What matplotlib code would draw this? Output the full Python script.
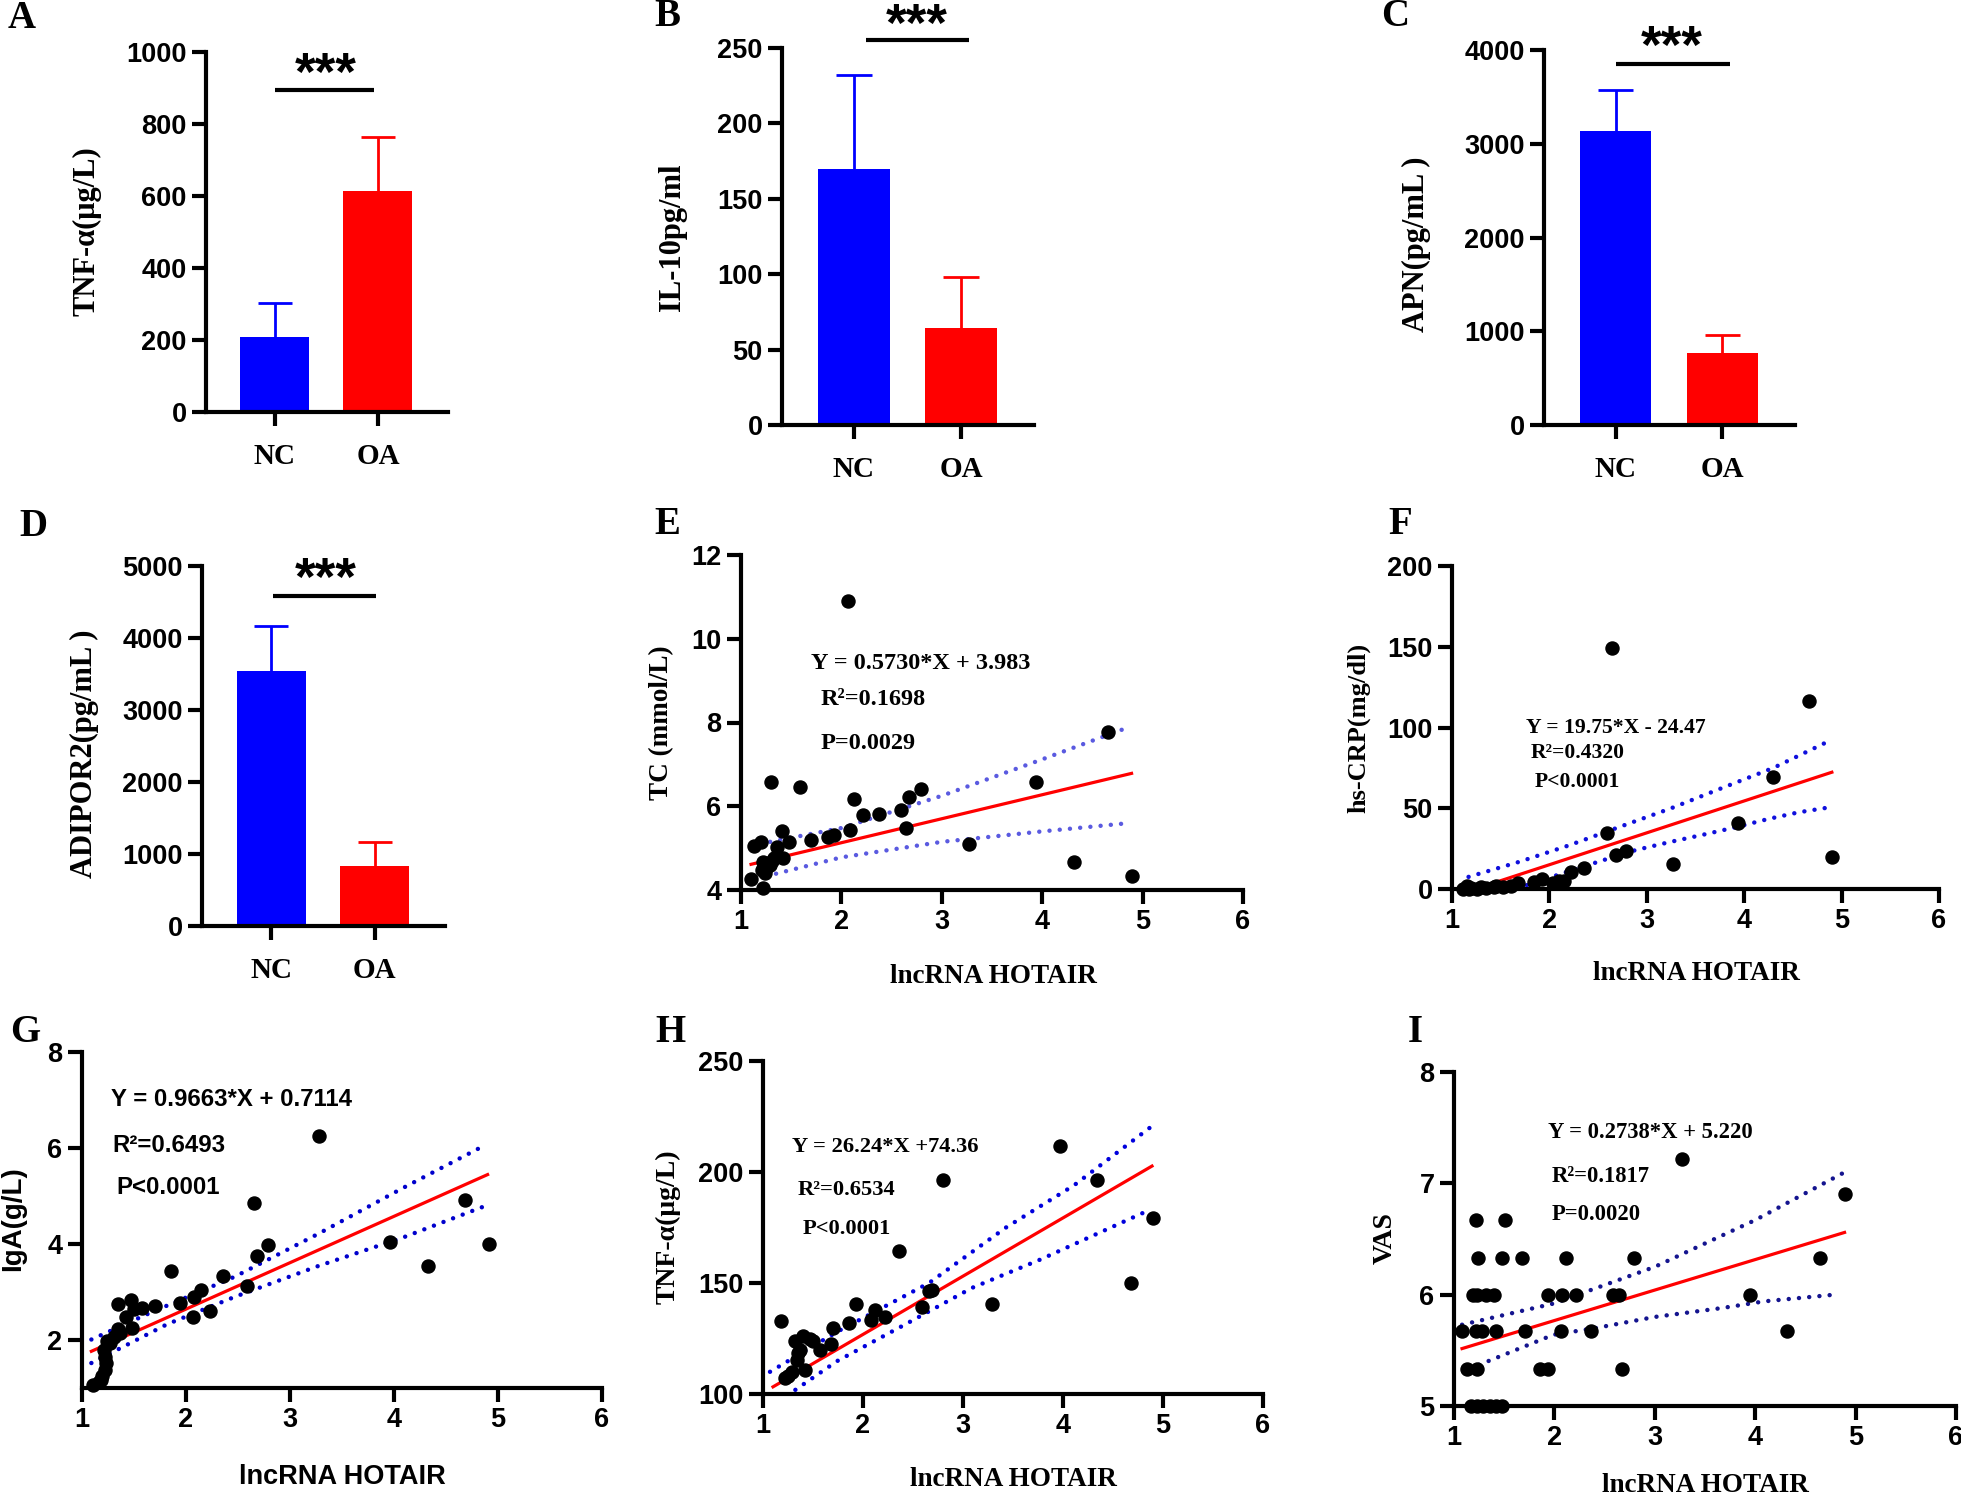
import numpy as np
import matplotlib.pyplot as plt

plt.rcParams['font.family'] = ['Liberation Sans', 'DejaVu Sans']
plt.rcParams['font.weight'] = 'bold'

SERIF = ['Liberation Serif', 'DejaVu Serif']
SANS = ['Liberation Sans', 'DejaVu Sans']

# ---- bar panel data (mean, upper SD) ----
groups = ['NC', 'OA']
bar_colors = ['#0000ff', '#ff0000']
tnf_mean, tnf_sd = [209, 614], [94, 150]
il10_mean, il10_sd = [170, 64], [62, 34]
apn_mean, apn_sd = [3139, 765], [434, 195]
adipor2_mean, adipor2_sd = [3546, 838], [625, 324]

# ---- scatter data: lncRNA HOTAIR vs ... ----
tc_x = [1.10, 1.13, 1.20, 1.22, 1.22, 1.21, 1.25, 1.30, 1.29, 1.33, 1.36, 1.41, 1.42, 1.48,
        1.59, 1.70, 1.87, 1.93, 2.07, 2.09, 2.13, 2.22, 2.37, 2.59, 2.64, 2.67, 2.79, 3.27,
        3.94, 4.32, 4.66, 4.89, 1.24, 1.31]
tc_y = [4.26, 5.04, 5.15, 4.04, 4.68, 4.48, 4.52, 6.59, 4.60, 4.76, 5.02, 5.41, 4.76, 5.15,
        6.45, 5.19, 5.26, 5.31, 10.90, 5.43, 6.17, 5.79, 5.82, 5.91, 5.47, 6.21, 6.41, 5.11,
        6.59, 4.68, 7.77, 4.33, 4.40, 4.70]
tc_up_x, tc_up_y = [1.29, 2.0, 3.0, 4.0, 4.83], [5.15, 5.48, 6.25, 7.12, 7.86]
tc_lo_x, tc_lo_y = [1.25, 2.0, 3.0, 4.0, 4.83], [4.33, 4.78, 5.15, 5.40, 5.59]

crp_x = [1.11, 1.15, 1.17, 1.20, 1.26, 1.30, 1.35, 1.43, 1.45, 1.52, 1.61, 1.68, 1.84, 1.92,
         2.04, 2.10, 2.15, 2.22, 2.36, 2.59, 2.645, 2.68, 2.79, 3.27, 3.94, 4.30, 4.67, 4.90]
crp_y = [0.2, 1.6, 0.0, 0.5, 0.0, 1.0, 0.6, 1.0, 2.0, 1.0, 1.6, 3.7, 4.1, 6.2,
         3.7, 5.2, 4.7, 10.3, 12.8, 34.7, 149.5, 21.1, 23.8, 15.5, 40.9, 69.6, 116.5, 19.6]
crp_up_x, crp_up_y = [1.17, 1.7, 2.2, 2.7, 3.25, 3.75, 4.3, 4.85], [7.5, 17, 27, 38, 50, 62, 75, 91]
crp_lo_x = [1.17, 1.7, 2.2, 2.54, 2.88, 3.23, 3.57, 3.91, 4.25, 4.56, 4.87]
crp_lo_y = [-10, 1, 11, 17.6, 24, 29, 33.5, 38.2, 43.4, 47.5, 50.5]

iga_x = [3.28, 2.65, 4.68, 2.79, 2.68, 3.96, 4.91, 4.33, 1.86, 2.36, 2.59, 2.14, 2.08, 1.94,
         2.23, 2.07, 1.35, 1.47, 1.58, 1.70, 1.50, 1.42, 1.35, 1.48, 1.31, 1.24, 1.21, 1.23,
         1.22, 1.19, 1.16, 1.11, 1.37, 1.27, 1.18, 1.22]
iga_y = [6.24, 4.85, 4.91, 3.97, 3.76, 4.04, 4.01, 3.54, 3.44, 3.33, 3.13, 3.05, 2.90, 2.78,
         2.61, 2.47, 2.76, 2.84, 2.66, 2.71, 2.64, 2.47, 2.22, 2.26, 2.07, 1.97, 1.79, 1.52,
         1.38, 1.24, 1.13, 1.07, 2.14, 1.93, 1.17, 1.65]
iga_up_x, iga_up_y = [1.09, 1.66, 2.47, 3.27, 4.08, 4.85], [2.01, 2.57, 3.32, 4.21, 5.16, 6.03]
iga_lo_x, iga_lo_y = [1.09, 1.82, 2.47, 3.27, 4.08, 4.85], [1.52, 2.33, 2.90, 3.54, 4.13, 4.77]

tnf_x = [3.97, 2.80, 4.34, 2.36, 4.68, 3.29, 2.66, 2.69, 2.59, 1.93, 2.12, 2.08, 2.22, 1.86,
         1.70, 1.18, 1.68, 1.57, 1.47, 1.40, 1.32, 1.50, 1.35, 1.34, 1.42, 1.29, 1.22, 1.25,
         1.37, 4.90]
tnf_y = [211.8, 196.2, 196.2, 164.6, 150.0, 140.6, 146.3, 147.0, 139.0, 140.7, 138.0, 133.5,
         134.6, 132.0, 129.8, 132.8, 122.6, 119.7, 124.8, 126.0, 123.8, 123.8, 118.5, 115.5,
         111.0, 110.0, 107.0, 108.0, 120.0, 179.5]
tnf_up_x, tnf_up_y = [1.07, 1.74, 2.66, 3.43, 4.11, 4.87], [110, 128, 150, 175, 194, 220]
tnf_lo_x, tnf_lo_y = [1.07, 1.74, 2.42, 3.09, 3.77, 4.87], [94, 114.8, 131.3, 147.8, 160.5, 183]

vas_x = [3.27, 4.89, 1.22, 1.51, 1.24, 1.48, 1.68, 2.12, 2.79, 4.65,
         1.19, 1.23, 1.32, 1.40, 1.94, 2.08, 2.22, 2.58, 2.64, 3.95,
         1.08, 1.22, 1.28, 1.42, 1.71, 2.07, 2.36, 4.32,
         1.13, 1.23, 1.86, 1.94, 2.67,
         1.17, 1.23, 1.29, 1.36, 1.42, 1.48]
vas_y = [7.22, 6.90, 6.67, 6.67, 6.33, 6.33, 6.33, 6.33, 6.33, 6.33,
         6, 6, 6, 6, 6, 6, 6, 6, 6, 6,
         5.67, 5.67, 5.67, 5.67, 5.67, 5.67, 5.67, 5.67,
         5.33, 5.33, 5.33, 5.33, 5.33,
         5, 5, 5, 5, 5, 5]
vas_up_x, vas_up_y = [1.08, 1.99, 3.0, 4.0, 4.87], [5.73, 5.92, 6.25, 6.67, 7.09]
vas_lo_x = [1.25, 1.99, 2.41, 3.0, 3.67, 4.09, 4.79]
vas_lo_y = [5.37, 5.64, 5.70, 5.80, 5.88, 5.94, 6.00]

W, H = 1961, 1501
fig = plt.figure(figsize=(W / 100, H / 100), dpi=100)


def box(l, t, r, b):
    return [l / W, 1 - b / H, (r - l) / W, (b - t) / H]


def ftxt(x, y, s, **kw):
    fig.text(x / W, 1 - y / H, s, **kw)


def style(ax):
    for s in ['top', 'right']:
        ax.spines[s].set_visible(False)
    for s in ['left', 'bottom']:
        ax.spines[s].set_linewidth(3.0)
    ax.tick_params(width=3.0, length=10, labelsize=19.5, pad=4)


def bar_panel(rect, means, sds, yticks, sig, stars, cat_pad=12):
    ax = fig.add_axes(box(*rect))
    pos = np.arange(len(groups))
    ax.bar(pos, means, width=0.67, color=bar_colors, zorder=2)
    cap = 0.165
    for i in range(len(groups)):
        top = means[i] + sds[i]
        ax.plot([pos[i], pos[i]], [means[i], top], color=bar_colors[i], lw=2,
                solid_capstyle='butt', zorder=1)
        ax.plot([pos[i] - cap, pos[i] + cap], [top, top], color=bar_colors[i], lw=2,
                solid_capstyle='butt', zorder=1)
    ax.set_xlim(-0.67, 1.68)
    ax.set_ylim(yticks[0], yticks[-1])
    ax.set_yticks(yticks)
    style(ax)
    ax.set_xticks(pos)
    ax.set_xticklabels(groups, fontfamily=SERIF, fontsize=21)
    ax.tick_params(axis='x', pad=cat_pad)
    ax.plot(sig[:2], [sig[2], sig[2]], color='black', lw=3.0, clip_on=False,
            solid_capstyle='butt')
    ax.text(stars[0], stars[1], '***', ha='center', va='center', fontsize=38,
            fontfamily=SANS, clip_on=False)
    return ax


def scatter_panel(rect, x, y, ylim, yticks, coef, xr, up, lo, band_color):
    ax = fig.add_axes(box(*rect))
    for bx, by in (up, lo):
        ax.plot(bx, by, color=band_color, lw=3.2, linestyle=(0, (0.01, 2.3)),
                dash_capstyle='round', zorder=2)
    fx = np.array(xr)
    ax.plot(fx, coef[0] * fx + coef[1], color='#ff0000', lw=2.3, zorder=3)
    ax.plot(x, y, 'o', color='black', markersize=9.4, zorder=4, clip_on=False)
    ax.set_xlim(1, 6)
    ax.set_xticks([1, 2, 3, 4, 5, 6])
    ax.set_ylim(*ylim)
    ax.set_yticks(yticks)
    style(ax)
    return ax


# ---- A-D ----
bar_panel((206, 52, 448, 412), tnf_mean, tnf_sd, [0, 200, 400, 600, 800, 1000],
          (0, 0.96, 894), (0.49, 934))
bar_panel((782, 48, 1034, 425), il10_mean, il10_sd, [0, 50, 100, 150, 200, 250],
          (0.11, 1.07, 255), (0.59, 264))
bar_panel((1544, 50, 1795, 425), apn_mean, apn_sd, [0, 1000, 2000, 3000, 4000],
          (0, 1.07, 3851), (0.53, 4013))
bar_panel((202, 566, 445, 926), adipor2_mean, adipor2_sd, [0, 1000, 2000, 3000, 4000, 5000],
          (0.02, 1.01, 4583), (0.53, 4796))

# ---- E-I ----
scatter_panel((741, 555, 1243, 890), tc_x, tc_y, (4, 12), [4, 6, 8, 10, 12],
              (0.5730, 3.983), [1.1, 4.89], (tc_up_x, tc_up_y), (tc_lo_x, tc_lo_y),
              '#5a5ae0')
scatter_panel((1452, 566, 1939, 889), crp_x, crp_y, (0, 200), [0, 50, 100, 150, 200],
              (19.75, -24.47), [1.1, 4.9], (crp_up_x, crp_up_y), (crp_lo_x, crp_lo_y),
              '#1010dd')
scatter_panel((82, 1052, 602, 1388), iga_x, iga_y, (1, 8), [2, 4, 6, 8],
              (0.9663, 0.7114), [1.09, 4.9], (iga_up_x, iga_up_y), (iga_lo_x, iga_lo_y),
              '#0000cc')
scatter_panel((763, 1061, 1263, 1394), tnf_x, tnf_y, (100, 250), [100, 150, 200, 250],
              (26.24, 74.36), [1.1, 4.89], (tnf_up_x, tnf_up_y), (tnf_lo_x, tnf_lo_y),
              '#0000dd')
scatter_panel((1454, 1072, 1956, 1406), vas_x, vas_y, (5, 8), [5, 6, 7, 8],
              (0.2738, 5.220), [1.08, 4.89], (vas_up_x, vas_up_y), (vas_lo_x, vas_lo_y),
              '#14148f')

# ---- panel letters ----
for letter, (lx, ly) in {'A': (22, 18), 'B': (667, 16), 'C': (1395, 17), 'D': (33, 526),
                         'E': (667, 524), 'F': (1400, 524), 'G': (25, 1032),
                         'H': (670, 1032), 'I': (1415, 1032)}.items():
    ftxt(lx, ly, letter, ha='center', va='center', fontsize=28, fontfamily=SERIF)

# ---- y axis titles ----
ylabs = [(87, 231, 'TNF-α(μg/L)', SERIF, 22), (672, 237, 'IL-10pg/ml', SERIF, 22),
         (1416, 244, 'APN(pg/mL )', SERIF, 22), (84, 754, 'ADIPOR2(pg/mL )', SERIF, 22),
         (662, 723, 'TC (mmol/L)', SERIF, 19.5), (1359, 728, 'hs-CRP(mg/dl)', SERIF, 19),
         (13, 1219, 'IgA(g/L)', SANS, 20), (668, 1227, 'TNF-α(μg/L)', SERIF, 20),
         (1385, 1238, 'VAS', SERIF, 20)]
for x, y, s, fam, fs in ylabs:
    ftxt(x, y, s, rotation=90, ha='center', va='center', fontsize=fs, fontfamily=fam)

# ---- x axis titles ----
xlabs = [(993, 976, SERIF), (1696, 973, SERIF), (342, 1477, SANS), (1013, 1479, SERIF),
         (1705, 1486, SERIF)]
for x, y, fam in xlabs:
    ftxt(x, y, 'lncRNA HOTAIR', ha='center', va='center', fontsize=19.5, fontfamily=fam)

# ---- regression annotations ----
notes = [
    [(811, 663, 'Y = 0.5730*X + 3.983'), (821, 700, 'R²=0.1698'), (821, 743, 'P=0.0029')],
    [(1526, 728, 'Y = 19.75*X - 24.47'), (1531, 753, 'R²=0.4320'), (1535, 782, 'P<0.0001')],
    [(111, 1100, 'Y = 0.9663*X + 0.7114'), (112, 1146, 'R²=0.6493'), (116, 1188, 'P<0.0001')],
    [(792, 1147, 'Y = 26.24*X +74.36'), (798, 1190, 'R²=0.6534'), (803, 1229, 'P<0.0001')],
    [(1548, 1133, 'Y = 0.2738*X + 5.220'), (1552, 1177, 'R²=0.1817'), (1552, 1215, 'P=0.0020')],
]
note_fonts = [(SERIF, 17.5), (SERIF, 15.6), (SANS, 17.3), (SERIF, 16.2), (SERIF, 16.3)]
for group, (fam, fs) in zip(notes, note_fonts):
    for x, y, s in group:
        ftxt(x, y, s, ha='left', va='center', fontsize=fs, fontfamily=fam)

fig.savefig('out.png', dpi=100)
